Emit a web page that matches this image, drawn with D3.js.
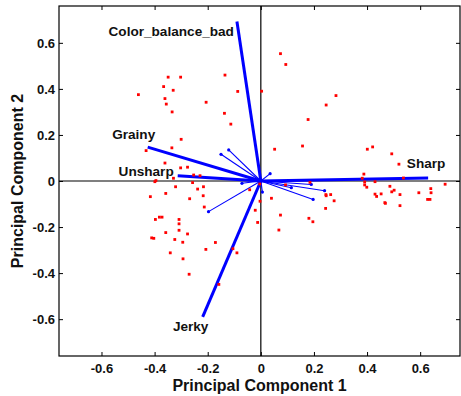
<!DOCTYPE html>
<html>
<head>
<meta charset="utf-8">
<script src="https://cdn.jsdelivr.net/npm/d3@7"></script>
<style>
  body { margin: 0; background: #fff; }
  svg text { font-family: "Liberation Sans", Arial, sans-serif; font-weight: bold; fill: #111; }
</style>
</head>
<body>
<div id="chart"></div>
<script>
// scores (red points)
var scoreX = [-0.349, -0.302, -0.135, -0.366, -0.330, -0.461, -0.087, -0.361, -0.356, -0.206,
  -0.334, -0.137, -0.113, -0.300, -0.335, -0.432, -0.361, -0.302, -0.276, -0.329,
  -0.253, -0.229, -0.395, -0.399, -0.257, -0.321, -0.238, -0.216, -0.416, -0.358,
  -0.268, -0.217, -0.213, -0.397, -0.382, -0.372, -0.308, -0.308, -0.308, -0.358,
  -0.411, -0.403, -0.276, -0.324, -0.294, -0.171, -0.207, -0.341, -0.293, -0.270,
  -0.105, -0.090, -0.158, 0.003, 0.074, 0.094, 0.283, 0.246, 0.178, 0.157,
  0.052, -0.004, -0.042, 0.093, 0.185, -0.003, 0.040, -0.021, -0.012, 0.074,
  0.068, 0.181, 0.196, 0.244, 0.245, 0.246, 0.263, 0.276, 0.401, 0.421,
  0.493, 0.520, 0.388, 0.382, 0.537, 0.391, 0.430, 0.391, 0.399, 0.486,
  0.694, 0.430, 0.436, 0.453, 0.493, 0.502, 0.524, 0.595, 0.640, 0.641,
  0.628, 0.637, 0.467, 0.469, 0.524];
var scoreY = [0.451, 0.451, 0.460, 0.410, 0.394, 0.375, 0.389, 0.358, 0.334, 0.342,
  0.300, 0.294, 0.247, 0.181, 0.144, 0.132, 0.078, 0.057, 0.060, 0.012,
  0.026, 0.023, 0.002, -0.003, -0.007, -0.025, -0.035, -0.025, -0.068, -0.054,
  -0.077, -0.064, -0.113, -0.167, -0.157, -0.157, -0.167, -0.186, -0.214, -0.224,
  -0.247, -0.249, -0.230, -0.254, -0.266, -0.267, -0.297, -0.312, -0.338, -0.405,
  -0.294, -0.312, -0.449, 0.390, 0.553, 0.506, 0.371, 0.330, 0.267, 0.152,
  0.138, -0.013, -0.038, -0.017, -0.006, -0.088, -0.075, -0.127, -0.180, -0.148,
  -0.213, -0.162, -0.177, -0.119, -0.059, -0.064, -0.059, -0.086, 0.138, 0.148,
  0.118, 0.073, 0.030, 0.012, 0.013, -0.004, -0.003, -0.017, -0.027, -0.023,
  -0.014, -0.057, -0.067, -0.056, -0.047, -0.040, -0.059, -0.051, -0.033, -0.051,
  -0.080, -0.080, -0.094, -0.097, -0.107];

// labelled loadings (thick vectors)
var varNames = ['Color_balance_bad', 'Grainy', 'Unsharp', 'Sharp', 'Jerky'];
var loadX = [-0.090, -0.426, -0.313, 0.630, -0.219];
var loadY = [0.693, 0.147, 0.023, 0.013, -0.590];

// unlabelled loadings (thin vectors)
var thinX = [-0.121, -0.150, 0.035, -0.071, -0.197, 0.006, 0.190, 0.240, 0.197, 0.115];
var thinY = [0.135, 0.116, 0.032, -0.010, -0.133, -0.048, -0.015, -0.042, -0.080, -0.029];

// ticks
var xTicks = [-0.6, -0.4, -0.2, 0, 0.2, 0.4, 0.6];
var yTicks = [-0.6, -0.4, -0.2, 0, 0.2, 0.4, 0.6];

// label placement relative to vector tip (pixels)
var labelOff = {
  Color_balance_bad: {dx: -3, dy: 10, anchor: 'end'},
  Grainy: {dx: -14, dy: -13, anchor: 'middle'},
  Unsharp: {dx: -4, dy: -4, anchor: 'end'},
  Sharp: {dx: -2, dy: -15, anchor: 'middle'},
  Jerky: {dx: -12, dy: 9, anchor: 'middle'}
};

var W = 461, H = 396;
var pLeft = 59, pRight = 460, pTop = 6, pBottom = 356;

var x = d3.scaleLinear().domain([-0.76, 0.75]).range([pLeft, pRight]);
var y = d3.scaleLinear().domain([-0.76, 0.76]).range([pBottom, pTop]);

var svg = d3.select('#chart').append('svg')
  .attr('width', W)
  .attr('height', H);

function fmt(d) { return d === 0 ? '0' : d.toFixed(1); }

// axes
svg.append('g')
  .attr('transform', 'translate(0,' + pBottom + ')')
  .call(d3.axisBottom(x).tickValues(xTicks).tickFormat(fmt).tickSizeInner(-4).tickSizeOuter(0).tickPadding(8))
  .call(function(g) { g.select('.domain').remove(); });
svg.append('g')
  .attr('transform', 'translate(' + pLeft + ',0)')
  .call(d3.axisLeft(y).tickValues(yTicks).tickFormat(fmt).tickSizeInner(-4).tickSizeOuter(0).tickPadding(4))
  .call(function(g) { g.select('.domain').remove(); });
svg.append('g')
  .attr('transform', 'translate(0,' + pTop + ')')
  .call(d3.axisTop(x).tickValues(xTicks).tickFormat('').tickSizeInner(-4).tickSizeOuter(0))
  .call(function(g) { g.select('.domain').remove(); });
svg.append('g')
  .attr('transform', 'translate(' + pRight + ',0)')
  .call(d3.axisRight(y).tickValues(yTicks).tickFormat('').tickSizeInner(-4).tickSizeOuter(0))
  .call(function(g) { g.select('.domain').remove(); });

svg.selectAll('.tick text').style('font-size', '13px');
svg.selectAll('.tick line').attr('stroke', '#000');

// zero lines
svg.append('line')
  .attr('x1', pLeft).attr('x2', pRight)
  .attr('y1', y(0)).attr('y2', y(0))
  .attr('stroke', '#000').attr('stroke-width', 1.2);
svg.append('line')
  .attr('x1', x(0)).attr('x2', x(0))
  .attr('y1', pTop).attr('y2', pBottom)
  .attr('stroke', '#000').attr('stroke-width', 1.2);

// box
svg.append('rect')
  .attr('x', pLeft).attr('y', pTop)
  .attr('width', pRight - pLeft).attr('height', pBottom - pTop)
  .attr('fill', 'none').attr('stroke', '#000').attr('stroke-width', 1.2);

// thin vectors
var thin = d3.range(thinX.length);
svg.selectAll('.thin').data(thin).enter().append('line')
  .attr('class', 'thin')
  .attr('x1', x(0)).attr('y1', y(0))
  .attr('x2', function(i) { return x(thinX[i]); })
  .attr('y2', function(i) { return y(thinY[i]); })
  .attr('stroke', '#0000ff').attr('stroke-width', 1.1);
svg.selectAll('.thinEnd').data(thin).enter().append('circle')
  .attr('class', 'thinEnd')
  .attr('cx', function(i) { return x(thinX[i]); })
  .attr('cy', function(i) { return y(thinY[i]); })
  .attr('r', 1.6)
  .attr('fill', '#0000ff');

// thick vectors
var thick = d3.range(varNames.length);
svg.selectAll('.thick').data(thick).enter().append('line')
  .attr('class', 'thick')
  .attr('x1', x(0)).attr('y1', y(0))
  .attr('x2', function(i) { return x(loadX[i]); })
  .attr('y2', function(i) { return y(loadY[i]); })
  .attr('stroke', '#0000ff').attr('stroke-width', 3);

// scores
svg.selectAll('.pt').data(d3.range(scoreX.length)).enter().append('rect')
  .attr('class', 'pt')
  .attr('x', function(i) { return x(scoreX[i]) - 1.4; })
  .attr('y', function(i) { return y(scoreY[i]) - 1.4; })
  .attr('width', 2.8).attr('height', 2.8)
  .attr('fill', '#ff0000');

// vector labels
svg.selectAll('.vlab').data(thick).enter().append('text')
  .attr('class', 'vlab')
  .attr('x', function(i) { return x(loadX[i]) + labelOff[varNames[i]].dx; })
  .attr('y', function(i) { return y(loadY[i]) + labelOff[varNames[i]].dy; })
  .attr('dy', '0.35em')
  .attr('text-anchor', function(i) { return labelOff[varNames[i]].anchor; })
  .style('font-size', '13.6px')
  .text(function(i) { return varNames[i]; });

// axis titles
svg.append('text')
  .attr('x', (pLeft + pRight) / 2)
  .attr('y', 391)
  .attr('text-anchor', 'middle')
  .style('font-size', '16px')
  .text('Principal Component 1');
svg.append('text')
  .attr('transform', 'translate(23,' + ((pTop + pBottom) / 2) + ') rotate(-90)')
  .attr('text-anchor', 'middle')
  .style('font-size', '16px')
  .text('Principal Component 2');
</script>
</body>
</html>
